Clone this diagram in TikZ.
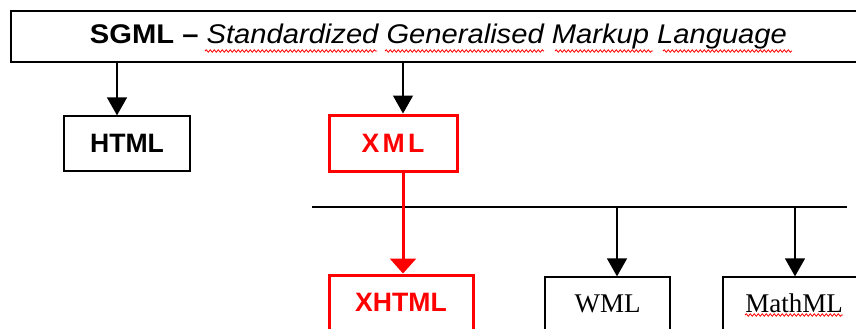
\documentclass[tikz,border=0pt]{standalone}
\usepackage{fontspec}
\setmainfont{Liberation Serif}
\setsansfont{Liberation Sans}
\usetikzlibrary{arrows.meta,decorations.pathmorphing}
\definecolor{xmlred}{RGB}{255,0,0}

\tikzset{
  langbox/.style={draw, line width=1.3bp, inner sep=0pt, minimum height=53bp,
    font=\sffamily\bfseries\fontsize{26.6bp}{30bp}\selectfont},
  redbox/.style={langbox, draw=xmlred, text=xmlred, line width=3bp},
  serifbox/.style={langbox, font=\rmfamily\fontsize{27bp}{30bp}\selectfont},
  link/.style={line width=1.3bp, -{Triangle[width=20bp,length=18bp]}},
  redlink/.style={xmlred, line width=3bp, -{Triangle[width=26bp,length=15bp]}},
  spell/.style={xmlred, line width=0.8bp, decorate,
    decoration={snake, segment length=4bp, amplitude=1.2bp}}
}

\begin{document}
\begin{tikzpicture}[x=1bp,y=-1bp]

\clip (0,0) rectangle (856,328);
\fill[white] (0,0) rectangle (856,328);

% root
\node[langbox, line width=1.8bp, minimum width=855bp, minimum height=51bp,
  font=\sffamily\fontsize{27bp}{30bp}\selectfont] (sgml) at (438.5,36.5)
  {\scalebox{1.08}[1]{\textbf{SGML –} \textit{Standardized Generalised Markup Language}}};
% first level
\node[langbox, minimum width=126bp, minimum height=55bp] (html) at (127,143.5) {HTML};
\node[redbox, minimum width=128bp, minimum height=56bp] (xml) at (393,143)
  {\addfontfeature{LetterSpace=12}XML};
% second level
\node[redbox, minimum width=144bp, minimum height=55bp] (xhtml) at (401,302.5) {XHTML};
\node[serifbox, minimum width=125bp] (wml) at (607.5,303.5) {WML};
\node[serifbox, minimum width=142bp] (mathml) at (794,303.5) {MathML};

% arrow columns
\coordinate (colhtml) at (117,0);
\coordinate (colxml) at (403,0);
\coordinate (colwml) at (617,0);
\coordinate (colmath) at (795,0);
% bus
\coordinate (busL) at (312,207);
\coordinate (busR) at (847,207);
\draw[line width=1.3bp] (busL) -- (busR);

\draw[link] (sgml.south -| colhtml) -- (html.north -| colhtml);
\draw[link] (sgml.south -| colxml) -- (xml.north -| colxml);
\draw[link] (busL -| colwml) -- (wml.north -| colwml);
\draw[link] (busL -| colmath) -- (mathml.north -| colmath);
\draw[redlink] (xml.south -| colxml) -- (xhtml.north -| colxml);

% spelling marks
\draw[spell] (205,51) -- (377,51);
\draw[spell] (385,51) -- (544,51);
\draw[spell] (555,51) -- (653,51);
\draw[spell] (663,51) -- (792,51);
\draw[spell] (745,315) -- (843,315);

\end{tikzpicture}
\end{document}
